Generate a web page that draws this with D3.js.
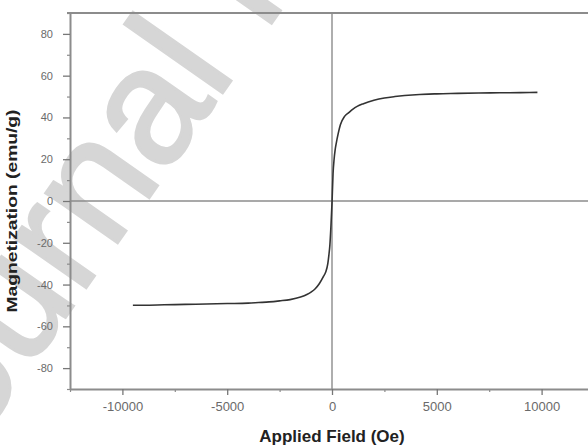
<!DOCTYPE html>
<html>
<head>
<meta charset="utf-8">
<script src="https://cdn.jsdelivr.net/npm/d3@7"></script>
<style>
  html, body { margin: 0; padding: 0; background: #fff; }
  svg { display: block; font-family: "Liberation Sans", Arial, sans-serif; }
</style>
</head>
<body>
<div id="chart"></div>
<script>
// M-H curve
const fieldOe = [-9500, -9000, -8000, -7000, -6000, -5000, -4000, -3500, -3000, -2500,
  -2000, -1500, -1200, -1000, -800, -600, -400, -300, -200, -150, -100, -50, 0,
  50, 100, 150, 200, 300, 400, 600, 800, 1000, 1200, 1500, 2000, 2500, 3000,
  4000, 5000, 6000, 7000, 8000, 9000, 9800];
const magnetization = [-49.9, -49.9, -49.7, -49.5, -49.3, -49.1, -48.9, -48.6, -48.3, -47.8,
  -47.2, -46.0, -44.8, -43.6, -42.0, -39.5, -36.0, -34.0, -30.0, -26.0, -21.0, -12.0, -1.0,
  13.0, 20.0, 24.5, 27.5, 32.5, 36.5, 40.5, 42.3, 44.0, 45.3, 46.6, 48.2, 49.3, 50.0,
  50.9, 51.3, 51.5, 51.7, 51.8, 51.9, 52.0];

const xTicks = [-10000, -5000, 0, 5000, 10000];
const yTicks = [-80, -60, -40, -20, 0, 20, 40, 60, 80];
const xMinor = [-12500, -7500, -2500, 2500, 7500, 12500];
const yMinor = [-90, -70, -50, -30, -10, 10, 30, 50, 70, 90];

const W = 588, H = 445;
const margin = { top: 13, right: -6, bottom: 56, left: 70 };
const innerW = W - margin.left - margin.right;
const innerH = H - margin.top - margin.bottom;

const svg = d3.select("#chart").append("svg")
  .attr("width", W)
  .attr("height", H);

// watermark behind the plot
svg.append("text")
  .attr("transform", "translate(-73,515) rotate(-55)")
  .attr("font-size", 165)
  .attr("fill", "#d6d6d6")
  .attr("stroke", "#d6d6d6")
  .attr("stroke-width", 3)
  .text("Journal Pre-proof");

const x = d3.scaleLinear().domain([-12500, 12500]).range([0, innerW]);
const y = d3.scaleLinear().domain([-90, 90]).range([innerH, 0]);

const g = svg.append("g")
  .attr("transform", `translate(${margin.left},${margin.top})`);

// zero lines
g.append("line")
  .attr("x1", 0).attr("x2", innerW)
  .attr("y1", y(0)).attr("y2", y(0))
  .attr("stroke", "#8c8c8c").attr("stroke-width", 1.4);
g.append("line")
  .attr("x1", x(0)).attr("x2", x(0))
  .attr("y1", 0).attr("y2", innerH)
  .attr("stroke", "#8c8c8c").attr("stroke-width", 1.4);

// top frame line
g.append("line")
  .attr("x1", -3).attr("x2", innerW)
  .attr("y1", 0).attr("y2", 0)
  .attr("stroke", "#8c8c8c").attr("stroke-width", 2);

// minor ticks
g.append("g")
  .attr("transform", `translate(0,${innerH})`)
  .call(d3.axisBottom(x).tickValues(xMinor).tickSize(3).tickFormat(""))
  .call(a => a.select(".domain").remove())
  .selectAll("line").attr("stroke", "#8c8c8c").attr("stroke-width", 1.2);
g.append("g")
  .call(d3.axisLeft(y).tickValues(yMinor).tickSize(3).tickFormat(""))
  .call(a => a.select(".domain").remove())
  .selectAll("line").attr("stroke", "#8c8c8c").attr("stroke-width", 1.2);

// x axis
const xAxis = g.append("g")
  .attr("transform", `translate(0,${innerH})`)
  .call(d3.axisBottom(x).tickValues(xTicks).tickSize(6).tickPadding(7)
    .tickSizeOuter(0).tickFormat(d => String(d)));
xAxis.select(".domain").attr("stroke", "#8c8c8c").attr("stroke-width", 2);
xAxis.selectAll(".tick line").attr("stroke", "#777").attr("stroke-width", 1.3);
xAxis.selectAll("text")
  .attr("font-size", 13)
  .attr("fill", "#6a6a6a")
  .attr("font-family", "Liberation Sans, Arial, sans-serif");

// y axis
const yAxis = g.append("g")
  .call(d3.axisLeft(y).tickValues(yTicks).tickSize(7).tickPadding(10)
    .tickSizeOuter(0).tickFormat(d => String(d)));
yAxis.select(".domain").attr("stroke", "#8c8c8c").attr("stroke-width", 2);
yAxis.selectAll(".tick line").attr("stroke", "#777").attr("stroke-width", 1.3);
yAxis.selectAll("text")
  .attr("font-size", 11)
  .attr("fill", "#6a6a6a")
  .attr("font-family", "Liberation Sans, Arial, sans-serif");

// curve
const pts = fieldOe.map((h, i) => [h, magnetization[i]]);
const line = d3.line()
  .x(d => x(d[0]))
  .y(d => y(d[1]))
  .curve(d3.curveMonotoneX);

g.append("path")
  .datum(pts)
  .attr("fill", "none")
  .attr("stroke", "#333")
  .attr("stroke-width", 1.6)
  .attr("d", line);

// axis titles
svg.append("text")
  .attr("x", margin.left + x(0))
  .attr("y", 442)
  .attr("text-anchor", "middle")
  .attr("font-size", 17)
  .attr("font-weight", "bold")
  .attr("fill", "#222")
  .text("Applied Field (Oe)");

svg.append("text")
  .attr("transform", "translate(17,211) rotate(-90)")
  .attr("text-anchor", "middle")
  .attr("font-size", 15)
  .attr("font-weight", "bold")
  .attr("fill", "#222")
  .attr("textLength", 203)
  .attr("lengthAdjust", "spacingAndGlyphs")
  .text("Magnetization (emu/g)");
</script>
</body>
</html>
